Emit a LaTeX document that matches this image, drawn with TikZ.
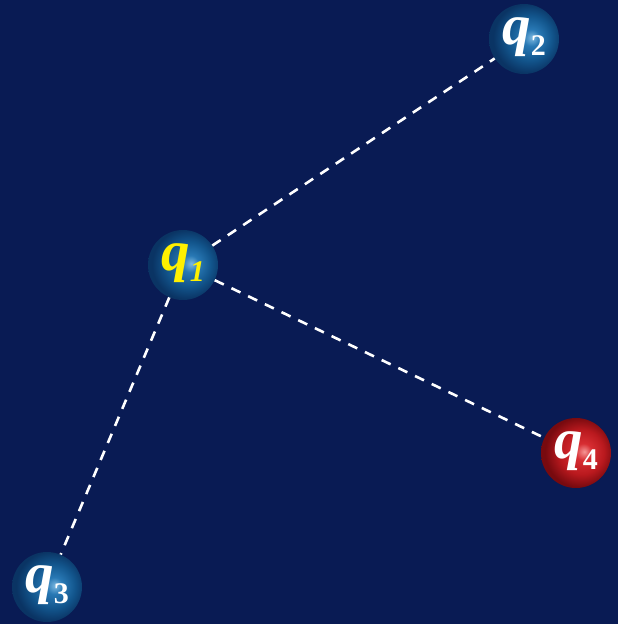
\documentclass[tikz,border=0pt]{standalone}
\usepackage{fontspec}
\setmainfont{Liberation Serif}
\definecolor{bgnavy}{RGB}{9,27,84}
\definecolor{bhi}{RGB}{125,185,225}
\definecolor{bmid}{RGB}{40,120,180}
\definecolor{bmain}{RGB}{18,85,140}
\definecolor{bedge}{RGB}{10,52,100}
\definecolor{rhi}{RGB}{245,150,150}
\definecolor{rmid}{RGB}{215,45,50}
\definecolor{rmain}{RGB}{185,25,30}
\definecolor{redge}{RGB}{120,10,15}
\definecolor{qyellow}{RGB}{255,240,0}
\pgfdeclareradialshading{blueshade}{\pgfpoint{6bp}{1bp}}{color(0bp)=(bhi); color(6bp)=(bmid); color(16bp)=(bmain); color(25bp)=(bedge); color(50bp)=(bedge)}
\pgfdeclareradialshading{redshade}{\pgfpoint{6bp}{1bp}}{color(0bp)=(rhi); color(6bp)=(rmid); color(16bp)=(rmain); color(25bp)=(redge); color(50bp)=(redge)}
\newcommand{\qlab}[1]{\smash{\raisebox{-5pt}{{\fontsize{57}{57}\selectfont\bfseries\itshape q}\raisebox{-11pt}{\fontsize{30}{30}\selectfont\bfseries #1}}}}

\begin{document}
\begin{tikzpicture}[
  x=1pt, y=-1pt,
  charge/.style={
    circle,
    minimum size=70pt,
    inner sep=0pt,
    text=white
  },
  bluecharge/.style={
    charge,
    shading=blueshade
  },
  redcharge/.style={
    charge,
    shading=redshade
  },
  link/.style={
    draw=white,
    line width=2.6pt,
    dash pattern=on 10pt off 8.5pt
  }
  ]

  \useasboundingbox (0,0) rectangle (618,624);
  \fill[bgnavy] (0,0) rectangle (618,624);

  \node[bluecharge, text=qyellow] (q1) at (183,265) {\qlab{\itshape 1}};
  \node[bluecharge] (q2) at (524,39) {\qlab{2}};
  \node[bluecharge] (q3) at (47,587) {\qlab{3}};
  \node[redcharge] (q4) at (576,453) {\qlab{4}};

  \draw[link] (q1) -- (q2);
  \draw[link] (q1) -- (q4);
  \draw[link] (q1) -- (q3);

\end{tikzpicture}
\end{document}
